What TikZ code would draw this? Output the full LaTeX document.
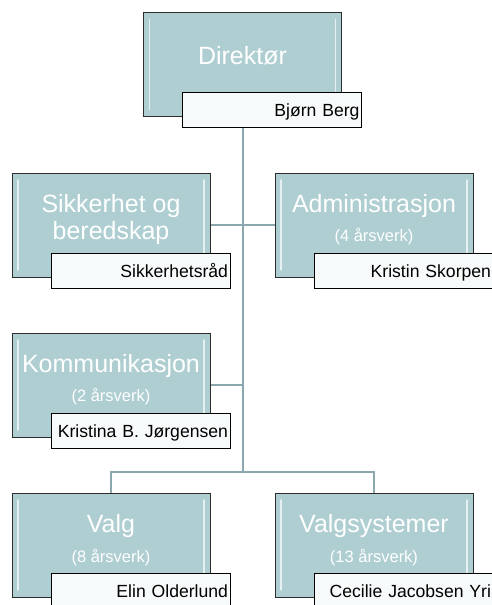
\documentclass[tikz,border=0pt]{standalone}
\usepackage{fontspec}
\setmainfont{Liberation Sans}
\usetikzlibrary{positioning,backgrounds}

\definecolor{unitfill}{RGB}{174,206,209}
\definecolor{unitdraw}{RGB}{45,45,45}
\definecolor{namefill}{RGB}{247,250,250}
\definecolor{linkcol}{RGB}{139,168,174}

\begin{document}
\begin{tikzpicture}[x=1pt,y=-1pt,
  unit node/.style={rectangle,fill=unitfill,draw=unitdraw,line width=1pt,
    minimum width=198pt,minimum height=104pt,inner sep=0pt,
    path picture={\draw[white,opacity=.7,line width=1.6pt,line cap=round]
      ([shift={(6pt,7pt)}]path picture bounding box.south west) --
      ([shift={(6pt,-7pt)}]path picture bounding box.north west)
      ([shift={(-6pt,7pt)}]path picture bounding box.south east) --
      ([shift={(-6pt,-7pt)}]path picture bounding box.north east);}},
  name node/.style={rectangle,fill=namefill,draw=black,line width=1pt,
    anchor=south west,minimum height=35pt,text width=175pt,align=right,
    inner xsep=2pt,inner ysep=0pt,text height=13pt,text depth=0pt,
    font=\fontsize{17.6}{20}\selectfont},
  title/.style={anchor=base,text=white,inner sep=0pt,font=\fontsize{25}{27}\selectfont},
  sub/.style={anchor=base,text=white,inner sep=0pt,font=\fontsize{16.5}{18}\selectfont},
  link/.style={draw=linkcol,line width=2pt}]

  \useasboundingbox (0,0) rectangle (491,605);

  % units
  \node[unit node] (dir) at (242.5,64.5) {};
  \node[unit node] (sik) at (111,225) {};
  \node[unit node] (adm) at (374,225) {};
  \node[unit node] (kom) at (111,385) {};
  \node[unit node] (valg) at (111,545) {};
  \node[unit node] (vsys) at (374,545) {};

  % unit titles
  \node[title] (dirT) at ([yshift=-52pt]dir.north) {Direktør};
  \node[title] (sikT) at ([yshift=-40pt]sik.north) {Sikkerhet og};
  \node[title] (sikT2) at ([yshift=-67pt]sik.north) {beredskap};
  \node[title] (admT) at ([yshift=-40pt]adm.north) {Administrasjon};
  \node[sub] (admS) at ([yshift=-69pt]adm.north) {(4 årsverk)};
  \node[title] (komT) at ([yshift=-40pt]kom.north) {Kommunikasjon};
  \node[sub] (komS) at ([yshift=-69pt]kom.north) {(2 årsverk)};
  \node[title] (valgT) at ([yshift=-40pt]valg.north) {Valg};
  \node[sub] (valgS) at ([yshift=-70pt]valg.north) {(8 årsverk)};
  \node[title] (vsysT) at ([yshift=-40pt]vsys.north) {Valgsystemer};
  \node[sub] (vsysS) at ([yshift=-70pt]vsys.north) {(13 årsverk)};

  % names
  \node[name node] (dirN) at ([xshift=39pt,yshift=-11pt]dir.south west) {Bjørn Berg};
  \node[name node] (sikN) at ([xshift=39pt,yshift=-11pt]sik.south west) {Sikkerhetsråd};
  \node[name node] (admN) at ([xshift=39pt,yshift=-11pt]adm.south west) {Kristin Skorpen};
  \node[name node] (komN) at ([xshift=39pt,yshift=-11pt]kom.south west) {Kristina B. Jørgensen};
  \node[name node] (valgN) at ([xshift=39pt,yshift=-11pt]valg.south west) {Elin Olderlund};
  \node[name node] (vsysN) at ([xshift=39pt,yshift=-11pt]vsys.south west) {Cecilie Jacobsen Yri};

  % connectors
  \begin{scope}[on background layer]
    \coordinate (fork) at (242.5,472);
    \draw[link] (dir.south) -- (fork);
    \draw[link] (sik.east) -- (adm.west);
    \draw[link] (kom.east) -- (kom.east -| fork);
    \draw[link] (fork) -| (valg.north);
    \draw[link] (fork) -| (vsys.north);
  \end{scope}
\end{tikzpicture}
\end{document}
